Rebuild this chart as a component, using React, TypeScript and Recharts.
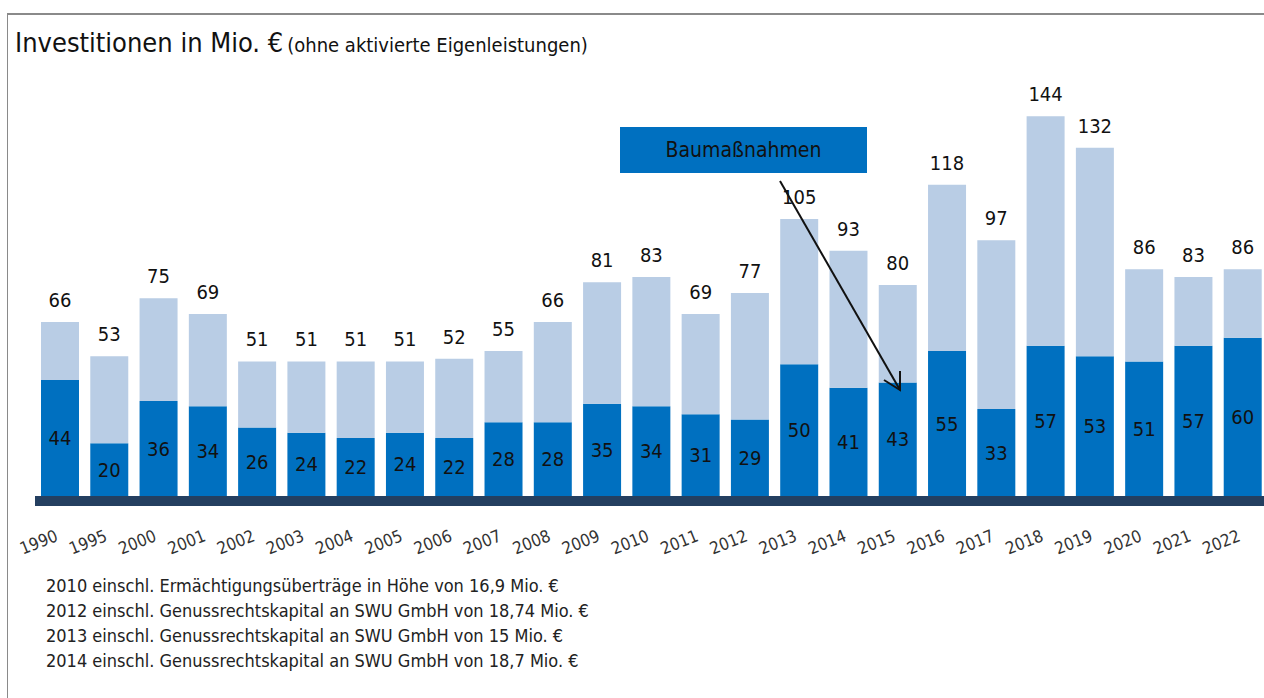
import React from 'react';
import { BarChart, Bar, XAxis, YAxis, LabelList } from 'recharts';

const years = ['1990', '1995', '2000', '2001', '2002', '2003', '2004', '2005', '2006', '2007', '2008', '2009', '2010', '2011', '2012', '2013', '2014', '2015', '2016', '2017', '2018', '2019', '2020', '2021', '2022'];
const totals = [66, 53, 75, 69, 51, 51, 51, 51, 52, 55, 66, 81, 83, 69, 77, 105, 93, 80, 118, 97, 144, 132, 86, 83, 86];
const baumassnahmen = [44, 20, 36, 34, 26, 24, 22, 24, 22, 28, 28, 35, 34, 31, 29, 50, 41, 43, 55, 33, 57, 53, 51, 57, 60];

const footnotes = [
    '2010 einschl. Ermächtigungsüberträge in Höhe von 16,9 Mio. €',
    '2012 einschl. Genussrechtskapital an SWU GmbH von 18,74 Mio. €',
    '2013 einschl. Genussrechtskapital an SWU GmbH von 15 Mio. €',
    '2014 einschl. Genussrechtskapital an SWU GmbH von 18,7 Mio. €',
];

const FONT = '"Liberation Sans Narrow", "DejaVu Sans Condensed", sans-serif';
const DARK = '#0070C0';
const LIGHT = '#B9CDE5';

const data = years.map((year, i) => ({
    year,
    total: totals[i],
    dark: baumassnahmen[i],
    light: totals[i] - baumassnahmen[i],
}));

const YearTick = (props: any) => {
    const { x, y, payload } = props;
    const tx = x - 21;
    const ty = y + 46;
    return (
        <text
            x={tx}
            y={ty}
            textAnchor="middle"
            dominantBaseline="central"
            transform={`rotate(-22, ${tx}, ${ty})`}
            fontFamily={FONT}
            fontSize={17}
            fill="#333"
        >
            {payload.value}
        </text>
    );
};

export default function App() {
    return (
        <div style={{ position: 'absolute', left: 0, top: 0, width: 1264, height: 698, overflow: 'hidden', background: '#fff', fontFamily: FONT }}>
            {/* frame */}
            <div style={{ position: 'absolute', left: 7, top: 13, right: 0, height: 2, background: '#8a8a8a' }} />
            <div style={{ position: 'absolute', left: 7, top: 13, bottom: 0, width: 1, background: '#8a8a8a' }} />

            <div style={{ position: 'absolute', left: 15, top: 27, whiteSpace: 'nowrap', color: '#111' }}>
                <span style={{ fontSize: 27 }}>Investitionen in Mio. €</span>
                <span style={{ fontSize: 20, marginLeft: 4 }}>(ohne aktivierte Eigenleistungen)</span>
            </div>

            <BarChart width={1300} height={698} data={data} margin={{ top: 74, right: 33, bottom: 142, left: 35 }} barSize={38}>
                <YAxis hide domain={[0, 160]} />
                <XAxis
                    dataKey="year"
                    height={60}
                    interval={0}
                    tickLine={false}
                    tickSize={0}
                    tickMargin={0}
                    tick={<YearTick />}
                    axisLine={{ stroke: '#243F60', strokeWidth: 10, transform: 'translate(0,5)' }}
                />
                <Bar dataKey="dark" stackId="a" fill={DARK} isAnimationActive={false}>
                    <LabelList dataKey="dark" position="center" fontFamily={FONT} fontSize={20} fill="#111" />
                </Bar>
                <Bar dataKey="light" stackId="a" fill={LIGHT} isAnimationActive={false}>
                    <LabelList dataKey="total" position="top" offset={15} fontFamily={FONT} fontSize={20} fill="#111" />
                </Bar>
            </BarChart>

            {/* legend box + arrow */}
            <div style={{ position: 'absolute', left: 620, top: 127, width: 247, height: 46, background: DARK, color: '#111', fontSize: 21, display: 'flex', alignItems: 'center', justifyContent: 'center' }}>
                Baumaßnahmen
            </div>
            <svg style={{ position: 'absolute', left: 0, top: 0 }} width={1264} height={698}>
                <line x1={780} y1={181} x2={900} y2={390} stroke="#111" strokeWidth={2} />
                <polyline points="884,380 900,390 900,371" fill="none" stroke="#111" strokeWidth={2} />
            </svg>

            <div style={{ position: 'absolute', left: 46, top: 573, fontSize: 18, lineHeight: '25px', color: '#222', whiteSpace: 'nowrap' }}>
                {footnotes.map(f => (
                    <div key={f}>{f}</div>
                ))}
            </div>
        </div>
    );
}
